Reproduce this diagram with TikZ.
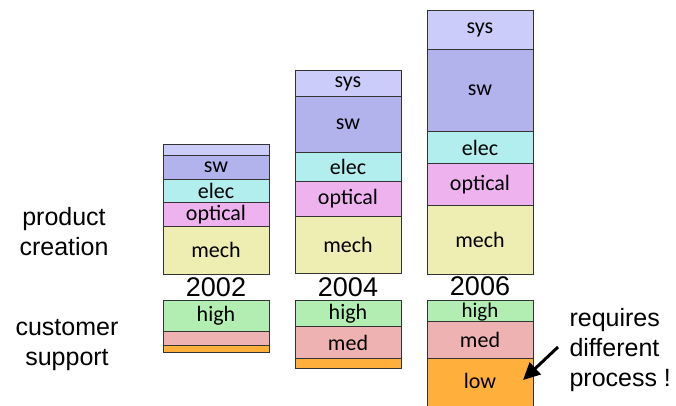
\documentclass[tikz,border=0pt]{standalone}
\usepackage{fontspec}
\setmainfont{Liberation Sans}
\newfontfamily\boxfont{Carlito}
\usetikzlibrary{arrows.meta}

\definecolor{sysc}{RGB}{204,204,250}
\definecolor{swc}{RGB}{178,178,236}
\definecolor{elecc}{RGB}{178,238,238}
\definecolor{optc}{RGB}{238,178,238}
\definecolor{mechc}{RGB}{238,238,178}
\definecolor{highc}{RGB}{178,238,178}
\definecolor{medc}{RGB}{238,178,178}
\definecolor{lowc}{RGB}{255,176,60}

\tikzset{
  seg/.style={draw=black!80, line width=0.8pt},
  boxtext/.style={font=\boxfont\fontsize{22}{24}\selectfont, inner sep=0pt},
  bigtext/.style={font=\fontsize{25}{30}\selectfont, align=center},
  yeartext/.style={font=\fontsize{27}{30}\selectfont, inner sep=0pt}
}

\begin{document}
\begin{tikzpicture}[x=1pt, y=-1pt]
    \useasboundingbox (0,0) rectangle (676,405);
    \clip (0,0) rectangle (676,405);

    % 2002 column
    \foreach \ytop/\ybot/\col/\lab/\nm in {144.3/155/sysc//sysA, 155/179.3/swc/sw/swA,
        179.3/202.7/elecc/elec/elecA, 202.7/226.7/optc/optical/optA, 226.7/274/mechc/mech/mechA,
        300.7/331.7/highc/high/highA, 331.7/345/medc//medA, 345/352.7/lowc//lowA} {
        \draw[seg, fill=\col] (163,\ytop) rectangle (269,\ybot) node[midway, boxtext] (\nm) {\lab};
    }

    % 2004 column
    \foreach \ytop/\ybot/\col/\lab/\nm in {70.7/96.7/sysc/sys/sysB, 96.7/152.7/swc/sw/swB,
        152.7/181.7/elecc/elec/elecB, 181.7/216/optc/optical/optB, 216/273.3/mechc/mech/mechB,
        300.7/326.7/highc/high/highB, 326.7/358.3/medc/med/medB, 358.3/368.3/lowc//lowB} {
        \draw[seg, fill=\col] (295,\ytop) rectangle (401,\ybot) node[midway, boxtext] (\nm) {\lab};
    }

    % 2006 column (high part is tight, low part runs off the bottom)
    \foreach \ytop/\ybot/\col/\lab/\nm in {10.7/49.3/sysc/sys/sysC, 49.3/131.7/swc/sw/swC,
        131.7/163.3/elecc/elec/elecC, 163.3/205.7/optc/optical/optC, 205.7/274/mechc/mech/mechC,
        321.7/358.3/medc/med/medC} {
        \draw[seg, fill=\col] (427,\ytop) rectangle (533,\ybot) node[midway, boxtext] (\nm) {\lab};
    }
    \draw[seg, fill=highc] (427,300.7) rectangle (533,321.7);
    \node[boxtext, font=\boxfont\fontsize{21}{24}\selectfont] (highC) at (480,312.5) {high};
    \draw[seg, fill=lowc] (427,358.3) rectangle (533,412);
    \node[boxtext] (lowC) at (480,381) {low};

    % years
    \node[yeartext] (yA) at (216,287) {2002};
    \node[yeartext] (yB) at (348,287) {2004};
    \node[yeartext] (yC) at (480,286) {2006};

    % row labels
    \node[bigtext] (pc) at (64,232) {product\\creation};
    \node[bigtext] (cs) at (67,345) {customer\\support};

    % remark
    \node[bigtext, align=left, anchor=west] (note) at (566,350) {requires\\different\\process !};
    \coordinate (tail) at (558,347);
    \draw[line width=3pt, -{Triangle[length=17pt, width=16pt]}] (tail) -- (523,380);

\end{tikzpicture}
\end{document}
